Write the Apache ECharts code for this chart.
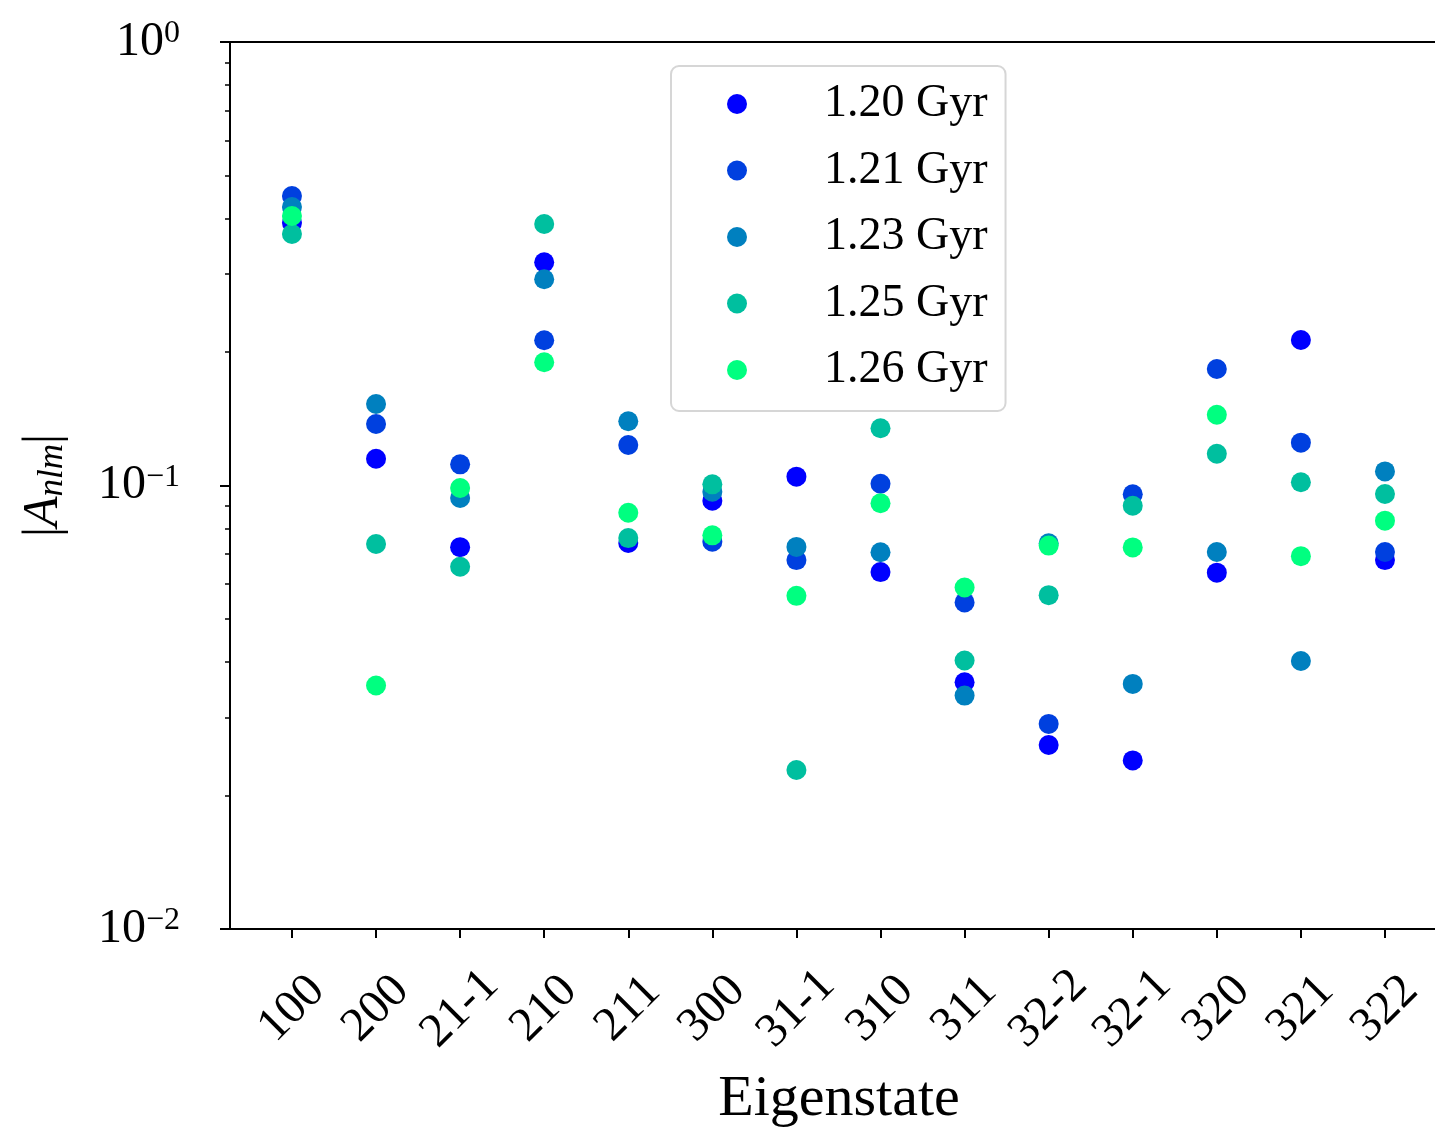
<!DOCTYPE html>
<html>
<head>
<meta charset="utf-8">
<script src="https://cdn.jsdelivr.net/npm/echarts@6/dist/echarts.min.js"></script>
<style>
  html, body { margin: 0; padding: 0; background: #fff; }
  #chart { width: 1435px; height: 1130px; }
</style>
</head>
<body>
<div id="chart"></div>
<script>
// ---- data ----
const categories = ['100', '200', '21-1', '210', '211', '300', '31-1', '310', '311', '32-2', '32-1', '320', '321', '322'];
const seriesNames = ['1.20 Gyr', '1.21 Gyr', '1.23 Gyr', '1.25 Gyr', '1.26 Gyr'];
const seriesColors = ['#0000ff', '#0040df', '#0080bf', '#00bf9f', '#00ff80'];
const a120 = [0.391, 0.1149, 0.0726, 0.3186, 0.0742, 0.0924, 0.1047, 0.0638, 0.0360, 0.0260, 0.0240, 0.0636, 0.2129, 0.0679];
const a121 = [0.4495, 0.1376, 0.1116, 0.2126, 0.1234, 0.0747, 0.0679, 0.1009, 0.0545, 0.0290, 0.0955, 0.1831, 0.1249, 0.0708];
const a123 = [0.4246, 0.1527, 0.0937, 0.2917, 0.1396, 0.0968, 0.0727, 0.0707, 0.0336, 0.0741, 0.0357, 0.0708, 0.0402, 0.1076];
const a125 = [0.3690, 0.0738, 0.0656, 0.3887, 0.0761, 0.1006, 0.02283, 0.1346, 0.0403, 0.0566, 0.0900, 0.1179, 0.1017, 0.0957];
const a126 = [0.4053, 0.0354, 0.0987, 0.1896, 0.0868, 0.0772, 0.0564, 0.0912, 0.0589, 0.0732, 0.0725, 0.1444, 0.0693, 0.0833];
const seriesValues = [a120, a121, a123, a125, a126];
const yTickValues = [0.01, 0.1, 1];
const yTickExponents = ['−2', '−1', '0'];
const yMinorTickValues = [0.02, 0.03, 0.04, 0.05, 0.06, 0.07, 0.08, 0.09, 0.2, 0.3, 0.4, 0.5, 0.6, 0.7, 0.8, 0.9];

const FONT = '"Liberation Serif", "DejaVu Serif", serif';
const xIdx = categories.map((c, i) => i);
// x range: plot continues past the right edge of the picture (cropped figure)
const X_MIN = -0.737;
const X_MAX = 13.595;

const chart = echarts.init(document.getElementById('chart'), null, { renderer: 'canvas' });

const series = seriesNames.map((name, k) => ({
  name: name,
  type: 'scatter',
  xAxisIndex: 0,
  yAxisIndex: 0,
  symbol: 'circle',
  symbolSize: 20,
  itemStyle: { color: seriesColors[k], opacity: 1 },
  emphasis: { disabled: true },
  data: seriesValues[k].map((v, i) => [xIdx[i], v])
}));

const option = {
  animation: false,
  backgroundColor: '#ffffff',
  grid: {
    left: 230, right: 0, top: 42, bottom: 201,
    containLabel: false,
    outerBoundsMode: 'none',
    show: false
  },
  legend: {
    orient: 'vertical',
    left: 671, top: 66,
    padding: [15, 18, 18, 56],
    itemWidth: 40, itemHeight: 20,
    itemGap: 20.5,
    icon: 'circle',
    backgroundColor: '#ffffff',
    borderColor: '#d6d6d6', borderWidth: 2, borderRadius: 8,
    selectedMode: false,
    data: seriesNames,
    formatter: name => '{t|' + name + '}',
    textStyle: {
      fontFamily: FONT, fontSize: 46, color: '#000',
      rich: { t: { fontFamily: FONT, fontSize: 46, lineHeight: 46, color: '#000', padding: [0, 0, 0, 62] } }
    }
  },
  xAxis: [{
    type: 'value',
    position: 'bottom',
    min: X_MIN, max: X_MAX,
    name: 'Eigenstate',
    nameLocation: 'middle',
    nameGap: 142,
    nameTextStyle: { fontFamily: FONT, fontSize: 58, color: '#000', padding: [0, 0, 0, 13] },
    axisLine: { show: true, onZero: false, lineStyle: { color: '#000', width: 2 } },
    axisTick: { show: true, length: 9, lineStyle: { color: '#000', width: 2 }, customValues: xIdx },
    axisLabel: {
      customValues: xIdx,
      rotate: 45,
      align: 'center',
      verticalAlign: 'middle',
      margin: 80,
      fontFamily: FONT, fontSize: 48, color: '#000',
      formatter: v => categories[Math.round(v)] || ''
    },
    splitLine: { show: false }
  }, {
    type: 'value',
    position: 'top',
    min: X_MIN, max: X_MAX,
    axisLine: { show: true, onZero: false, lineStyle: { color: '#000', width: 2 } },
    axisTick: { show: false },
    axisLabel: { show: false },
    splitLine: { show: false }
  }],
  yAxis: [{
    type: 'log',
    logBase: 10,
    min: 0.01, max: 1,
    position: 'left',
    name: '{b||}{i|A}{s|nlm}{b||}',
    nameLocation: 'middle',
    nameRotate: 90,
    nameGap: 160,
    nameTextStyle: {
      fontFamily: FONT, fontSize: 48, color: '#000',
      rich: {
        b: { fontFamily: FONT, fontSize: 50, color: '#000' },
        i: { fontFamily: FONT, fontSize: 50, fontStyle: 'italic', color: '#000' },
        s: { fontFamily: FONT, fontSize: 35, fontStyle: 'italic', color: '#000', verticalAlign: 'bottom', padding: [18, 0, 0, 0] }
      }
    },
    axisLine: { show: true, onZero: false, lineStyle: { color: '#000', width: 2 } },
    axisTick: { show: true, length: 10, lineStyle: { color: '#000', width: 2 }, customValues: yTickValues },
    axisLabel: {
      customValues: yTickValues,
      margin: 50,
      formatter: v => {
        const idx = yTickValues.findIndex(t => Math.abs(Math.log10(t) - Math.log10(v)) < 1e-6);
        return '{b|10}{s|' + (idx >= 0 ? yTickExponents[idx] : '') + '}';
      },
      rich: {
        b: { fontFamily: FONT, fontSize: 48, lineHeight: 48, color: '#000' },
        s: { fontFamily: FONT, fontSize: 32, lineHeight: 32, color: '#000', verticalAlign: 'top' }
      }
    },
    splitLine: { show: false },
    minorTick: { show: false }
  }, {
    type: 'log',
    logBase: 10,
    min: 0.01, max: 1,
    position: 'left',
    offset: 0,
    axisLine: { show: false, onZero: false },
    axisTick: { show: true, length: 5, lineStyle: { color: '#000', width: 1.5 }, customValues: yMinorTickValues },
    axisLabel: { show: false },
    splitLine: { show: false }
  }],
  series: series
};

chart.setOption(option);
</script>
</body>
</html>
